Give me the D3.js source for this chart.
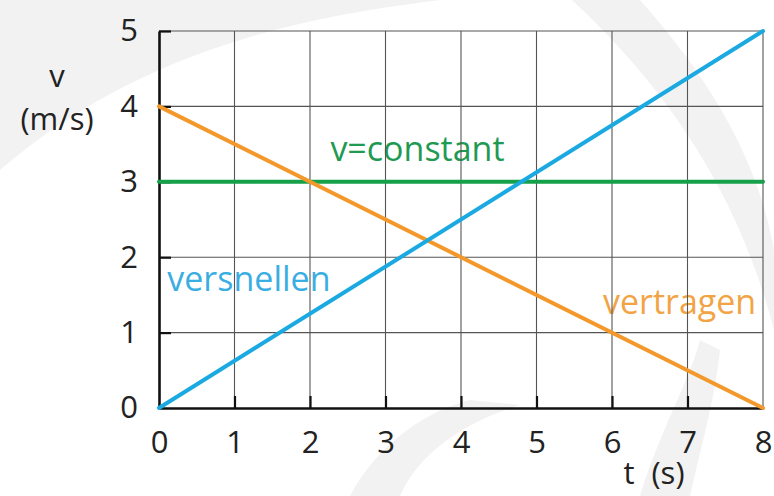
<!DOCTYPE html>
<html>
<head>
<meta charset="utf-8">
<script src="https://cdn.jsdelivr.net/npm/d3@7"></script>
<style>
  html, body { margin: 0; padding: 0; background: #fff; }
  svg { display: block; font-family: "Open Sans", "DejaVu Sans", sans-serif; }
</style>
</head>
<body>
<svg id="chart" width="774" height="496"></svg>
<script>
// Time axis (s) and velocity axis (m/s)
const tTicks = [0, 1, 2, 3, 4, 5, 6, 7, 8];
const vTicks = [0, 1, 2, 3, 4, 5];

// Each motion: start and end point of its v(t) line
const tPoints = [0, 8];
const versnellen = [0, 5];   // speeding up
const vertragen = [4, 0];    // slowing down
const constant = [3, 3];     // constant speed

const seriesNames = ["versnellen", "vertragen", "v=constant"];

const svg = d3.select("#chart");
const W = 774, H = 496;
const margin = { left: 159, right: 11, top: 31, bottom: 88 };

const x = d3.scaleLinear().domain([0, 8]).range([margin.left, W - margin.right]);
const y = d3.scaleLinear().domain([0, 5]).range([H - margin.bottom, margin.top]);

// faint watermark shapes in the background
const wm = svg.append("g").attr("fill", "#f2f2f2");
wm.append("path").attr("d", "M0,0 L440,0 C330,14 150,40 0,170 Z");
wm.append("path").attr("d", "M572,0 L640,0 C720,90 760,170 774,250 L774,330 C745,220 690,110 572,0 Z");
wm.append("path").attr("d", "M640,496 C660,430 690,380 700,340 L720,350 C715,400 700,450 690,496 Z");
wm.append("path").attr("d", "M350,496 C380,440 430,410 470,400 L520,405 C470,420 420,450 400,496 Z");

// series labels sit under the grid
const labels = svg.append("g").attr("font-size", 34);
labels.append("text").attr("x", x(0.11)).attr("y", y(1.55))
  .attr("fill", "#3aaee2").text(seriesNames[0]);
labels.append("text").attr("x", x(5.88)).attr("y", y(1.25))
  .attr("fill", "#f2a444").text(seriesNames[1]);
labels.append("text").attr("x", x(2.27)).attr("y", y(3.28))
  .attr("fill", "#1f9a52").text(seriesNames[2]);

// grid
const grid = svg.append("g").attr("stroke", "#555").attr("stroke-width", 1.1);
grid.selectAll("line.gx").data(tTicks.slice(1)).join("line")
  .attr("x1", d => x(d)).attr("x2", d => x(d))
  .attr("y1", y(0)).attr("y2", y(5));
grid.selectAll("line.gy").data(vTicks.slice(1)).join("line")
  .attr("x1", x(0)).attr("x2", x(8))
  .attr("y1", d => y(d)).attr("y2", d => y(d));

// axes with inward ticks
const fontTicks = 31;
const xAxis = svg.append("g")
  .attr("transform", `translate(0,${y(0)})`)
  .call(d3.axisBottom(x).tickValues(tTicks).tickFormat(d3.format("d"))
    .tickSizeInner(-12).tickSizeOuter(0).tickPadding(23));
const yAxis = svg.append("g")
  .attr("transform", `translate(${x(0)},0)`)
  .call(d3.axisLeft(y).tickValues(vTicks).tickFormat(d3.format("d"))
    .tickSizeInner(-12).tickSizeOuter(0).tickPadding(21));
[xAxis, yAxis].forEach(a => {
  a.select(".domain").attr("stroke", "#111").attr("stroke-width", 2.6);
  a.selectAll(".tick line").attr("stroke", "#111").attr("stroke-width", 2.2);
  a.selectAll(".tick text").attr("fill", "#222").attr("font-size", fontTicks)
    .attr("font-family", "\"Open Sans\", sans-serif");
});
xAxis.selectAll(".tick").filter(d => d === 0 || d === 8).select("line").remove();
yAxis.selectAll(".tick").filter(d => d === 0).select("line").remove();

// axis titles
const titles = svg.append("g").attr("font-size", 31).attr("fill", "#222")
  .attr("text-anchor", "middle");
titles.append("text").attr("x", 57).attr("y", 87).text("v");
titles.append("text").attr("x", 57).attr("y", 130).text("(m/s)");
titles.append("text").attr("x", 629).attr("y", 484).text("t");
titles.append("text").attr("x", 668).attr("y", 484).text("(s)");

// the three v(t) lines
const line = d3.line().x(d => x(d[0])).y(d => y(d[1]));
const series = [
  { vals: constant, color: "#16a04a" },
  { vals: vertragen, color: "#f3992c" },
  { vals: versnellen, color: "#1aa9e1" }
];
svg.append("g").selectAll("path").data(series).join("path")
  .attr("d", s => line(tPoints.map((t, i) => [t, s.vals[i]])))
  .attr("fill", "none").attr("stroke", s => s.color)
  .attr("stroke-width", 4).attr("stroke-linecap", "round");
</script>
</body>
</html>
